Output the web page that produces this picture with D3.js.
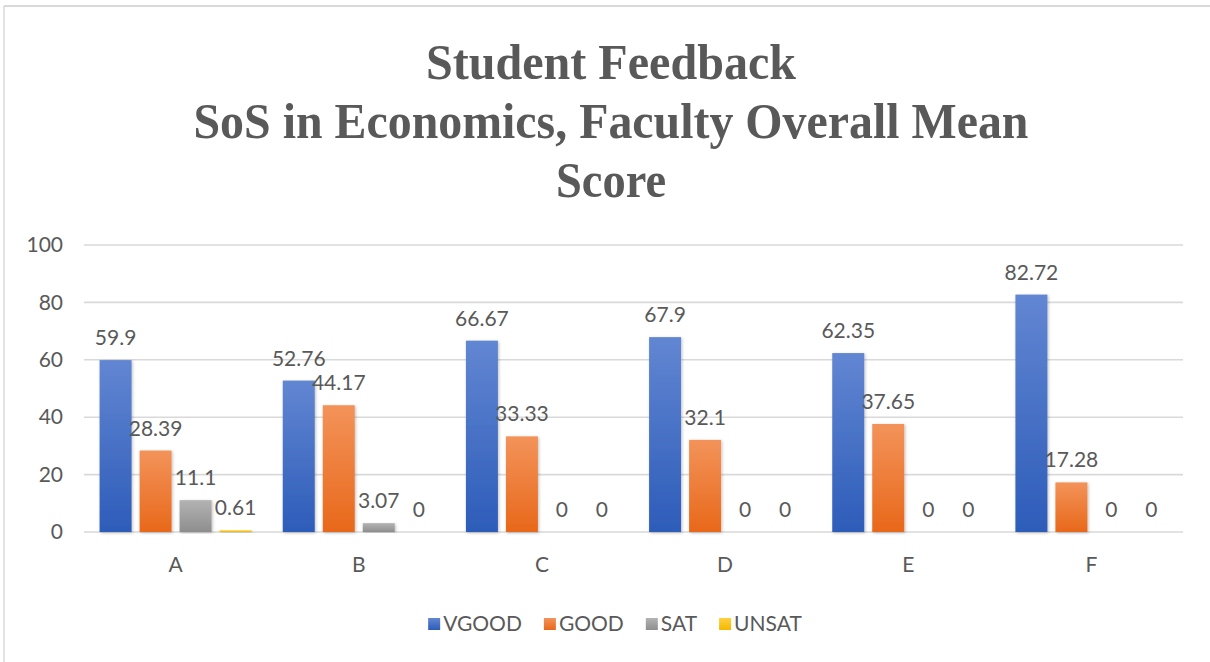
<!DOCTYPE html>
<html>
<head>
<meta charset="utf-8">
<script src="https://cdn.jsdelivr.net/npm/d3@7"></script>
<style>
  body { margin:0; background:#fff; }
  text { font-family: Lato, "Open Sans", sans-serif; fill:#595959; }
  .title { font-family: "Liberation Serif", "Times New Roman", serif; font-weight:bold; }
</style>
</head>
<body>
<svg id="chart"></svg>
<script>
// data
var categories = ["A","B","C","D","E","F"]
var seriesNames = ["VGOOD","GOOD","SAT","UNSAT"]
var vgood = [59.9, 52.76, 66.67, 67.9, 62.35, 82.72]
var good  = [28.39, 44.17, 33.33, 32.1, 37.65, 17.28]
var sat   = [11.1, 3.07, 0, 0, 0, 0]
var unsat = [0.61, 0, 0, 0, 0, 0]
var yTicks = [0,20,40,60,80,100]
var titleLines = ["Student Feedback","SoS in Economics, Faculty Overall Mean","Score"]

var colors = {
  VGOOD: ["#6286d2","#2d5cb9"],
  GOOD:  ["#f3935a","#e8681a"],
  SAT:   ["#b3b3b3","#8e8e8e"],
  UNSAT: ["#ffd040","#f5b800"]
}

var screen = {width:1210, height:662}
var margins = {left:84, right:27, top:245, bottom:130}

var svg = d3.select("#chart")
  .attr("width", screen.width)
  .attr("height", screen.height)

var defs = svg.append("defs")
seriesNames.forEach(function(s){
  var g = defs.append("linearGradient")
    .attr("id","grad_"+s)
    .attr("x1",0).attr("y1",0).attr("x2",0).attr("y2",1)
  g.append("stop").attr("offset","0%").attr("stop-color",colors[s][0])
  g.append("stop").attr("offset","100%").attr("stop-color",colors[s][1])
})
var shadow = defs.append("filter").attr("id","shadow")
  .attr("x","-20%").attr("y","-5%").attr("width","140%").attr("height","110%")
shadow.append("feDropShadow").attr("dx",1).attr("dy",1)
  .attr("stdDeviation",1.5).attr("flood-color","#000").attr("flood-opacity",0.25)

// chart frame (only top and left edges show)
svg.append("line").attr("x1",4).attr("x2",screen.width).attr("y1",6).attr("y2",6)
  .attr("stroke","#d9d9d9").attr("stroke-width",2)
svg.append("line").attr("x1",4).attr("x2",4).attr("y1",6).attr("y2",screen.height)
  .attr("stroke","#d9d9d9").attr("stroke-width",1.5)

// title
var title = svg.append("g")
var titleWidths = [370, 835, 110]
titleLines.forEach(function(t,i){
  title.append("text")
    .classed("title",true)
    .attr("x",611)
    .attr("y",79 + i*59)
    .attr("text-anchor","middle")
    .attr("font-size",50)
    .attr("textLength",titleWidths[i])
    .attr("lengthAdjust","spacingAndGlyphs")
    .text(t)
})

var plotRight = screen.width - margins.right
var plotBottom = 532

var xScale = d3.scaleBand()
  .domain(categories)
  .range([margins.left, plotRight])
  .paddingInner(0.1265)
  .paddingOuter(0.1265/2)

var xInner = d3.scaleBand()
  .domain(seriesNames)
  .range([0, xScale.bandwidth()])
  .paddingInner(0.2)
  .paddingOuter(0.1)

var yScale = d3.scaleLinear()
  .domain([0,100])
  .range([plotBottom, margins.top])

// gridlines
var grid = svg.append("g")
grid.selectAll("line")
  .data(yTicks)
  .enter()
  .append("line")
  .attr("x1",margins.left)
  .attr("x2",plotRight)
  .attr("y1",function(d){return yScale(d)})
  .attr("y2",function(d){return yScale(d)})
  .attr("stroke","#d9d9d9")
  .attr("stroke-width",1.6)

// y axis labels
var yAxis = d3.axisLeft(yScale).tickValues(yTicks).tickSize(0).tickPadding(21)
var yAx = svg.append("g")
  .attr("transform","translate("+margins.left+",0)")
  .call(yAxis)
yAx.select(".domain").remove()
yAx.selectAll("text").attr("font-size",21).attr("font-family","Lato").attr("fill","#595959")

// x axis labels
var xAxis = d3.axisBottom(xScale).tickSize(0).tickPadding(25)
var xAx = svg.append("g")
  .attr("transform","translate(0,"+plotBottom+")")
  .call(xAxis)
xAx.select(".domain").remove()
xAx.selectAll("text").attr("font-size",21).attr("font-family","Lato").attr("fill","#595959")

// bars
var table = categories.map(function(c,i){
  return {cat:c, values:[
    {s:"VGOOD", v:vgood[i]},
    {s:"GOOD", v:good[i]},
    {s:"SAT", v:sat[i]},
    {s:"UNSAT", v:unsat[i]}
  ]}
})

var groups = svg.append("g").selectAll("g")
  .data(table)
  .enter()
  .append("g")
  .attr("transform",function(d){return "translate("+xScale(d.cat)+",0)"})

groups.selectAll("rect")
  .data(function(d){return d.values})
  .enter()
  .append("rect")
  .attr("x",function(d){return xInner(d.s)})
  .attr("width",xInner.bandwidth())
  .attr("y",function(d){return yScale(d.v)})
  .attr("height",function(d){return plotBottom - yScale(d.v)})
  .attr("fill",function(d){return "url(#grad_"+d.s+")"})
  .attr("filter","url(#shadow)")

groups.selectAll("text")
  .data(function(d){return d.values})
  .enter()
  .append("text")
  .attr("x",function(d){return xInner(d.s)+xInner.bandwidth()/2})
  .attr("y",function(d){return yScale(d.v)-15})
  .attr("text-anchor","middle")
  .attr("font-size",21)
  .text(function(d){return String(d.v)})

// legend
var legend = svg.append("g")
var lx = 0
var items = []
seriesNames.forEach(function(s){
  var g = legend.append("g").attr("transform","translate("+lx+",0)")
  g.append("rect").attr("x",0).attr("y",-13).attr("width",12).attr("height",12)
    .attr("fill","url(#grad_"+s+")")
  var t = g.append("text").attr("x",15).attr("y",0).attr("font-size",21).text(s)
  lx += 15 + t.node().getComputedTextLength() + 22
})
var legendWidth = lx - 22
legend.attr("transform","translate("+(615 - legendWidth/2)+",631)")
</script>
</body>
</html>
